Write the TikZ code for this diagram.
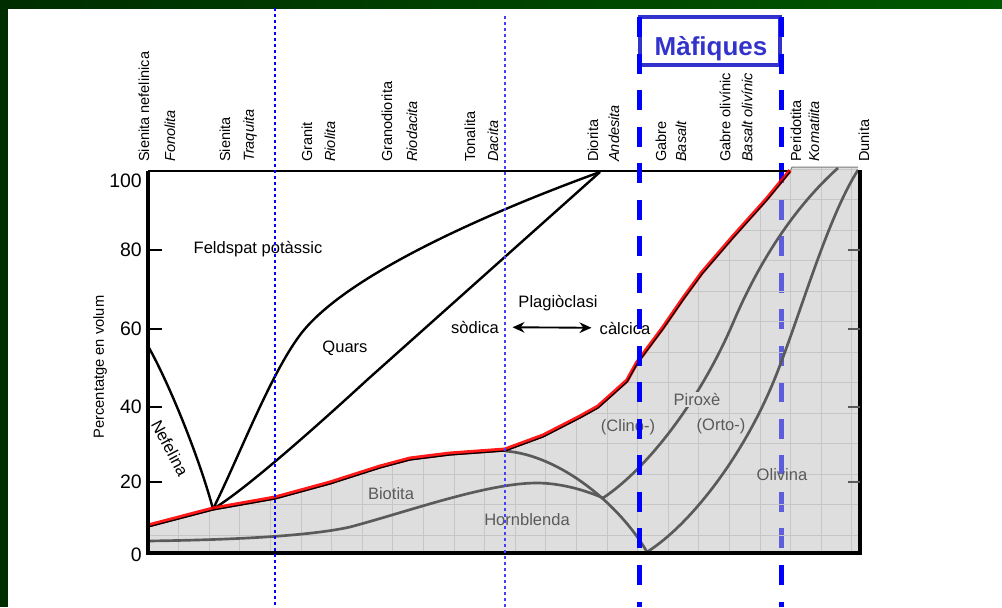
\documentclass[tikz,border=0pt]{standalone}
\usepackage{fontspec}
\setmainfont{Liberation Sans}
\usetikzlibrary{arrows.meta}

\definecolor{mafblue}{RGB}{51,51,204}
\definecolor{curvegray}{RGB}{90,90,90}
\definecolor{gridgray}{RGB}{198,198,198}
\definecolor{zonegray}{RGB}{189,189,189}
\definecolor{zonelight}{RGB}{222,222,222}
\definecolor{darkgreen}{RGB}{0,45,0}
\definecolor{lightgreen}{RGB}{0,88,0}

\newcommand{\zonetop}{(148,527) -- (213,510) -- (275,499) -- (330,484) -- (380,468) -- (410,460) -- (450,455) -- (505,451) -- (543,437) -- (580,418) -- (598,408) -- (627,382) -- (637,364) -- (663,329) -- (683,300) -- (702,274) -- (733,238) -- (767,200) -- (790,172)}
\newcommand{\zonepath}{\zonetop -- (792,167) -- (858,167) -- (858,553) -- (148,553) -- cycle}

\begin{document}
\begin{tikzpicture}[x=0.75pt,y=0.75pt,yscale=-1,xscale=1,
  rock/.style={anchor=west,rotate=90,inner sep=0pt,font=\fontsize{10.9}{13}\selectfont},
  volc/.style={rock,font=\fontsize{10.9}{13}\selectfont\itshape},
  mineral/.style={inner sep=0.75pt,font=\fontsize{12.4}{15}\selectfont},
  phase/.style={mineral,text=curvegray},
  tick/.style={anchor=east,inner sep=0pt,font=\fontsize{14.6}{17}\selectfont},
  edge/.style={line width=1.8pt},
  phaseedge/.style={curvegray,line width=2pt},
  thinzone/.style={blue,line width=1pt,dash pattern=on 2.25pt off 2.25pt},
  mafzone/.style={blue,line width=3.75pt,dash pattern=on 15pt off 12.4pt}]
\useasboundingbox (0,0) rectangle (1002,607);
%% slide frame
\shade [left color=darkgreen,right color=lightgreen] (0,0) rectangle (1002,8);
\fill [darkgreen] (0,0) rectangle (8,607);
%% ultramafic limit (under the shaded zone)
\draw [mafzone] (781,17) -- (781,607);
%% ferromagnesian zone
\fill [zonegray,fill opacity=0.5] \zonepath;
\begin{scope}
\clip \zonepath;
\draw [gridgray,line width=0.75pt,shift={(148,535)}] (0,-368) grid [xstep=30.6,ystep=30.5] (712,18);
\end{scope}
\draw [curvegray!80,line width=0.75pt] \zonetop -- (792,167) -- (858,167);
%% frame
\draw [line width=1.5pt] (148,171) -- (790,171);
%% felsic boundaries
\draw [edge] (148,346) .. controls (170,385) and (200,460) .. (213,509);
\draw [edge] (213,509) .. controls (238,459) and (270,375) .. (300,335) .. controls (345,275) and (490,212) .. (600,172);
\draw [edge] (213,509) .. controls (245,490) and (317,426) .. (367,380) -- (600,172);
%% mafic boundaries
\draw [phaseedge] (148,541) .. controls (220,540) and (305,537) .. (350,527) .. controls (410,511) and (487,483) .. (537,483) .. controls (560,483) and (585,490) .. (603,498);
\draw [phaseedge] (603,498) .. controls (648,468) and (700,400) .. (733,323) .. controls (747,290) and (780,220) .. (838,168);
\draw [phaseedge] (505,451) .. controls (560,455) and (620,505) .. (647,552);
\draw [phaseedge] (647,552) .. controls (690,525) and (745,455) .. (777,373) .. controls (802,309) and (828,217) .. (858,170);
\draw [red,line width=3pt,opacity=0.9,shift={(0,-1.5)}] \zonetop;
\draw [line width=0.9pt] \zonetop;
%% axes
\draw [line width=2.5pt] (148,171) -- (148,553);
\draw [line width=2.5pt] (860,170) -- (860,553);
\draw [line width=3pt] (146,553) -- (862,553);
\draw [line width=1.9pt] (148,250) -- (162,250) (148,329) -- (162,329) (148,407) -- (162,407) (148,482) -- (162,482);
\draw [curvegray,line width=1.5pt] (848,250) -- (860,250) (848,329) -- (860,329) (848,407) -- (860,407) (848,482) -- (860,482);
\draw (142,181) node [tick] (t100) {100};
\draw (142,250) node [tick] (t80) {80};
\draw (142,329) node [tick] (t60) {60};
\draw (142,407) node [tick] (t40) {40};
\draw (142,482) node [tick] (t20) {20};
\draw (142,555) node [tick] (t0) {0};
\draw (100,367) node [rotate=90,inner sep=0pt,font=\fontsize{11}{13}\selectfont] (ylabel) {Percentatge en volum};
%% rock names
\draw (144,162) node [rock] (snef) {Sienita nefelinica};
\draw (170,162) node [volc] (fonolita) {Fonolita};
\draw (225,162) node [rock] (sienita) {Sienita};
\draw (250,162) node [volc] (traquita) {Traquita};
\draw (307,162) node [rock] (granit) {Granit};
\draw (330,162) node [volc] (riolita) {Riolita};
\draw (387,162) node [rock] (granodiorita) {Granodiorita};
\draw (412,162) node [volc] (riodacita) {Riodacita};
\draw (470,162) node [rock] (tonalita) {Tonalita};
\draw (493,162) node [volc] (dacita) {Dacita};
\draw (593,162) node [rock] (diorita) {Diorita};
\draw (614,162) node [volc] (andesita) {Andesita};
\draw (661,162) node [rock] (gabre) {Gabre};
\draw (681,162) node [volc] (basalt) {Basalt};
\draw (725,162) node [rock] (gabreol) {Gabre olivínic};
\draw (747,162) node [volc] (basaltol) {Basalt olivínic};
\draw (796,162) node [rock] (peridotita) {Peridotita};
\draw (814,162) node [volc] (komatiita) {Komatiita};
\draw (864,162) node [rock] (dunita) {Dunita};
%% minerals
\draw (258,249) node [mineral] (feldspat) {Feldspat potàssic};
\draw (345,348) node [mineral] (quars) {Quars};
\draw (170,448) node [mineral,rotate=-62] (nefelina) {Nefelina};
\draw (558,303) node [mineral] (plagioclasi) {Plagiòclasi};
\draw (475,327) node [mineral,inner sep=0pt] (sodica) {sòdica};
\draw (625,328) node [mineral,inner sep=0pt] (calcica) {càlcica};
\draw [{Stealth[length=9pt,width=8pt]}-{Stealth[length=9pt,width=8pt]},line width=1.4pt,shorten <=10pt,shorten >=6pt] (sodica) -- (calcica);
\draw (391,494) node [phase] (biotita) {Biotita};
\draw (527,520) node [phase] (hornblenda) {Hornblenda};
\draw (628,427) node [phase] (clino) {(Clino-)};
\draw (697,399) node [phase,fill=zonelight,inner sep=1pt] (piroxe) {Piroxè};
\draw (721,426) node [phase] (orto) {(Orto-)};
\draw (782,475) node [phase] (olivina) {Olivina};
%% composition limits
\draw [thinzone] (275,8) -- (275,607);
\draw [thinzone,blue!75] (505,16) -- (505,607);
\draw [mafblue,line width=3pt] (640,17) rectangle (780,65);
\draw (711,49) node [text=mafblue,font=\fontsize{19.5}{23}\selectfont\bfseries] (mafiques) {Màfiques};
\draw [mafzone] (639,17) -- (639,607);
\draw [mafzone] (781,17) -- (781,167);
\end{tikzpicture}
\end{document}
